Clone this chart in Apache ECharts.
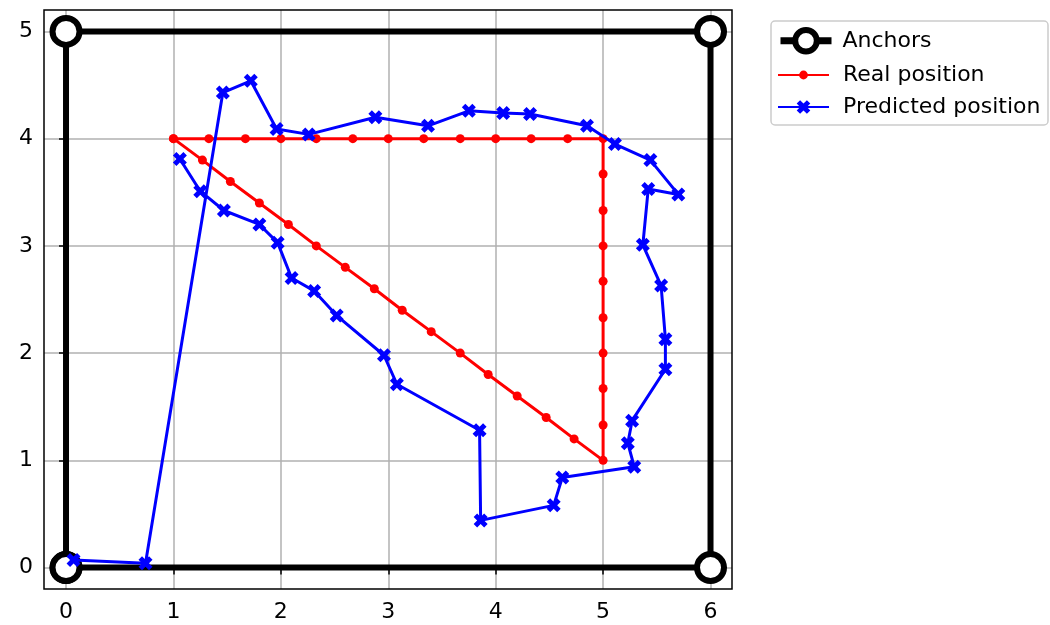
<!DOCTYPE html>
<html>
<head>
<meta charset="utf-8">
<script src="https://cdn.jsdelivr.net/npm/echarts@6/dist/echarts.min.js"></script>
<style>
  html, body { margin: 0; padding: 0; background: #fff; }
  #chart { width: 1050px; height: 625px; }
</style>
</head>
<body>
<div id="chart"></div>
<script>
// anchors (square path, closed)
const anchorX = [0, 6, 6, 0, 0]
const anchorY = [0, 0, 5, 5, 0]

// real position: top edge, right edge, diagonal back
const realX = [1, 1.33, 1.67, 2, 2.33, 2.67, 3, 3.33, 3.67, 4, 4.33, 4.67, 5,
  5, 5, 5, 5, 5, 5, 5, 5, 5,
  4.73, 4.47, 4.2, 3.93, 3.67, 3.4, 3.13, 2.87, 2.6, 2.33, 2.07, 1.8, 1.53, 1.27, 1]
const realY = [4, 4, 4, 4, 4, 4, 4, 4, 4, 4, 4, 4, 4,
  3.67, 3.33, 3, 2.67, 2.33, 2, 1.67, 1.33, 1,
  1.2, 1.4, 1.6, 1.8, 2, 2.2, 2.4, 2.6, 2.8, 3, 3.2, 3.4, 3.6, 3.8, 4]

// predicted position
const predX = [0.07, 0.74, 1.46, 1.72, 1.96, 2.26, 2.88, 3.37, 3.75, 4.07, 4.32, 4.85,
  5.11, 5.44, 5.70, 5.42, 5.37, 5.54, 5.58, 5.58, 5.27, 5.23, 5.29,
  4.62, 4.54, 3.86, 3.85, 3.08, 2.96, 2.52, 2.31, 2.10, 1.97, 1.80, 1.47, 1.25, 1.06]
const predY = [0.07, 0.04, 4.43, 4.54, 4.09, 4.04, 4.20, 4.12, 4.26, 4.24, 4.23, 4.12,
  3.95, 3.80, 3.48, 3.53, 3.01, 2.63, 2.13, 1.85, 1.37, 1.16, 0.94,
  0.84, 0.58, 0.44, 1.28, 1.71, 1.98, 2.35, 2.58, 2.70, 3.03, 3.20, 3.33, 3.51, 3.81]

const xTicks = [0, 1, 2, 3, 4, 5, 6]
const yTicks = [0, 1, 2, 3, 4, 5]
const xRange = [-0.205, 6.2]
const yRange = [-0.2, 5.2]

const FONT = 'DejaVu Sans'
const FONT_SIZE = 22
const X_MARK = 'path://M0,2.5 L2.5,0 L5,2.5 L7.5,0 L10,2.5 L7.5,5 L10,7.5 L7.5,10 L5,7.5 L2.5,10 L0,7.5 L2.5,5 Z'

// plot frame in pixels (matches grid below)
const FRAME = { left: 44, top: 10, width: 688, height: 579 }

function zip (xs, ys) {
  return xs.map((x, i) => [x, ys[i]])
}

function axisFor (range, ticks, margin) {
  return {
    type: 'value',
    min: range[0],
    max: range[1],
    splitNumber: ticks.length - 1,
    axisLine: { show: false },
    axisTick: {
      show: true, length: 7, customValues: ticks,
      lineStyle: { color: '#000', width: 1.5 },
    },
    splitLine: { show: true, lineStyle: { color: '#b0b0b0', width: 1.5 } },
    axisLabel: {
      color: '#000', fontSize: FONT_SIZE, fontFamily: FONT, margin,
      customValues: ticks,
    },
  }
}

// one legend per entry so each can keep its own marker size
function legendFor (name, top, itemHeight, textPad, extra) {
  return Object.assign({
    data: [name],
    left: 777,
    top,
    orient: 'vertical',
    padding: 0,
    itemWidth: 51,
    itemHeight,
    selectedMode: false,
    textStyle: {
      fontSize: FONT_SIZE, fontFamily: FONT, color: '#000', lineHeight: 26,
      padding: [0, 0, 0, textPad],
    },
  }, extra)
}

const chart = echarts.init(document.getElementById('chart'))

chart.setOption({
  animation: false,
  backgroundColor: '#fff',
  grid: {
    left: FRAME.left, top: FRAME.top,
    width: FRAME.width, height: FRAME.height,
  },
  xAxis: axisFor(xRange, xTicks, 12),
  yAxis: axisFor(yRange, yTicks, 11),
  legend: [
    legendFor('Anchors', 27, 27, 6, {
      itemStyle: { color: '#fff', borderColor: '#000', borderWidth: 6 },
      lineStyle: { color: '#000', width: 7 },
    }),
    legendFor('Real position', 62, 11, 9),
    legendFor('Predicted position', 94, 17, 9),
  ],
  graphic: [
    {
      type: 'rect',
      shape: { x: FRAME.left, y: FRAME.top, width: FRAME.width, height: FRAME.height },
      style: { fill: 'none', stroke: '#000', lineWidth: 1.5 },
      z: 1,
    },
    {
      type: 'rect',
      shape: { x: 771, y: 21, width: 277, height: 104, r: 4 },
      style: { fill: 'none', stroke: '#cccccc', lineWidth: 1.5 },
      z: -1,
    },
  ],
  series: [
    {
      name: 'Anchors',
      type: 'line',
      data: zip(anchorX, anchorY),
      symbol: 'circle',
      symbolSize: 27,
      showAllSymbol: true,
      clip: false,
      lineStyle: { color: '#000', width: 6 },
      itemStyle: { color: '#fff', borderColor: '#000', borderWidth: 6 },
      z: 2,
    },
    {
      name: 'Real position',
      type: 'line',
      data: zip(realX, realY),
      symbol: 'circle',
      symbolSize: 9,
      showAllSymbol: true,
      clip: false,
      lineStyle: { color: '#ff0000', width: 3 },
      itemStyle: { color: '#ff0000' },
      z: 3,
    },
    {
      name: 'Predicted position',
      type: 'line',
      data: zip(predX, predY),
      symbol: X_MARK,
      symbolSize: 14,
      showAllSymbol: true,
      clip: false,
      lineStyle: { color: '#0000ff', width: 3 },
      itemStyle: { color: '#0000ff' },
      z: 4,
    },
  ],
})
</script>
</body>
</html>
